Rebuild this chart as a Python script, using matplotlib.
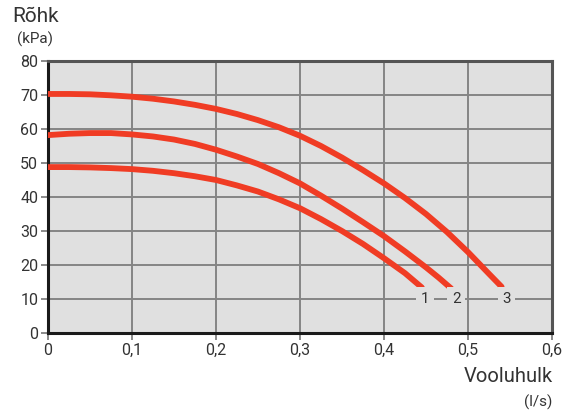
import numpy as np
import matplotlib
matplotlib.use("Agg")
import matplotlib.pyplot as plt
from matplotlib.ticker import FuncFormatter

plt.rcParams['font.family'] = ['Roboto', 'DejaVu Sans']

# curve data (flow l/s, pressure kPa)
flow_1 = [0, 0.025, 0.05, 0.075, 0.1, 0.125, 0.15, 0.175, 0.2, 0.225, 0.25,
          0.275, 0.3, 0.325, 0.35, 0.375, 0.4, 0.425, 0.445]
kpa_1 = [48.8, 48.8, 48.7, 48.5, 48.2, 47.7, 47.0, 46.1, 45.0, 43.4, 41.6,
         39.3, 36.7, 33.5, 30.0, 26.2, 22.0, 17.6, 13.4]
flow_2 = [0, 0.025, 0.05, 0.075, 0.1, 0.125, 0.15, 0.175, 0.2, 0.225, 0.25,
          0.275, 0.3, 0.325, 0.35, 0.375, 0.4, 0.425, 0.45, 0.465, 0.48]
kpa_2 = [58.2, 58.6, 58.8, 58.8, 58.4, 57.8, 56.9, 55.6, 53.9, 51.9, 49.7,
         47.0, 44.0, 40.4, 36.6, 32.6, 28.5, 24.0, 19.3, 16.3, 13.1]
flow_3 = [0, 0.025, 0.05, 0.075, 0.1, 0.125, 0.15, 0.175, 0.2, 0.225, 0.25,
          0.275, 0.3, 0.325, 0.35, 0.375, 0.4, 0.425, 0.45, 0.475, 0.5, 0.525, 0.54]
kpa_3 = [70.3, 70.3, 70.2, 69.9, 69.5, 68.9, 68.1, 67.1, 65.9, 64.4, 62.6,
         60.5, 58.0, 55.0, 51.6, 47.9, 44.0, 39.7, 35.0, 29.7, 23.8, 17.4, 13.6]

curve_labels = ["1", "2", "3"]
label_x = [0.449, 0.486, 0.546]
label_y = 10

x_ticks = [0, 0.1, 0.2, 0.3, 0.4, 0.5, 0.6]
y_ticks = [0, 10, 20, 30, 40, 50, 60, 70, 80]

red = "#f03c24"
txt = "#333333"

fig = plt.figure(figsize=(5.74, 4.12), dpi=100)
ax = fig.add_axes([0.0836, 0.1917, 0.8781, 0.6603])
ax.set_facecolor("#e0e0e0")

ax.set_xlim(0, 0.6)
ax.set_ylim(0, 80)
ax.set_xticks(x_ticks)
ax.set_yticks(y_ticks)
ax.xaxis.set_major_formatter(FuncFormatter(lambda v, p: "0" if v == 0 else f"{v:.1f}".replace(".", ",")))
ax.grid(True, color="#858585", linewidth=1.4, zorder=1)
ax.set_axisbelow(True)

for s in ["left", "bottom"]:
    ax.spines[s].set_color("#1a1a1a")
    ax.spines[s].set_linewidth(2.2)
for s in ["top", "right"]:
    ax.spines[s].set_color("#555555")
    ax.spines[s].set_linewidth(2.2)

ax.tick_params(axis="both", direction="out", length=5, width=1.2, color="#777777",
               labelsize=11.5, labelcolor=txt, pad=2)

for fx, ky in [(flow_1, kpa_1), (flow_2, kpa_2), (flow_3, kpa_3)]:
    ax.plot(fx, ky, color=red, linewidth=4.2, solid_capstyle="round",
            solid_joinstyle="round", zorder=3)

for lab, lx in zip(curve_labels, label_x):
    ax.text(lx, label_y, lab, ha="center", va="center", fontsize=11, color=txt,
            bbox=dict(boxstyle="square,pad=0.3", fc="#e0e0e0", ec="none"), zorder=4)

fig.text(0.022, 0.961, "Rõhk", fontsize=15, color=txt, ha="left", va="center")
fig.text(0.029, 0.905, "(kPa)", fontsize=11, color=txt, ha="left", va="center")
fig.text(0.963, 0.085, "Vooluhulk", fontsize=14.5, color=txt, ha="right", va="center")
fig.text(0.962, 0.024, "(l/s)", fontsize=11, color=txt, ha="right", va="center")

fig.savefig("out.png", dpi=100)
